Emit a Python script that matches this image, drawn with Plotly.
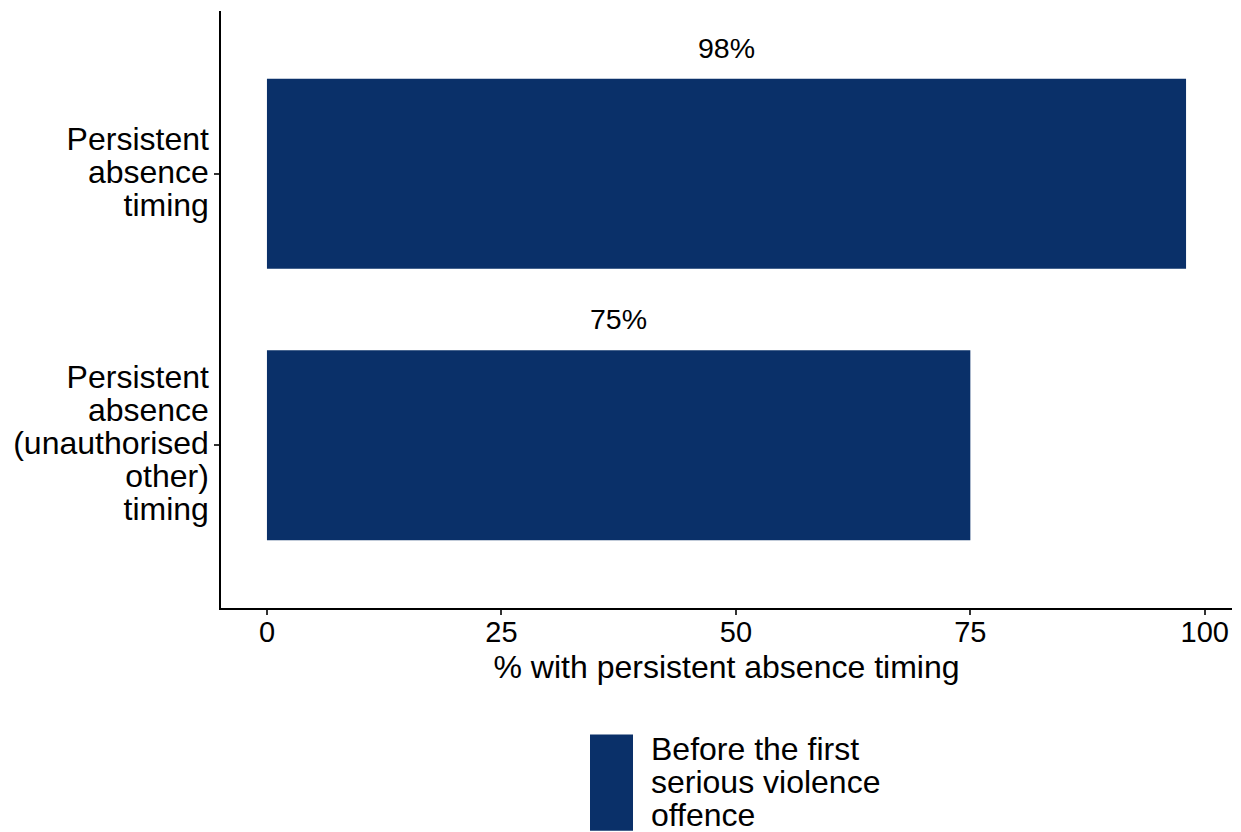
import plotly.graph_objects as go

categories = ["Persistent absence timing",
              "Persistent absence (unauthorised other) timing"]
category_lines = [["Persistent", "absence", "timing"],
                  ["Persistent", "absence", "(unauthorised", "other)", "timing"]]
values = [98, 75]
value_labels = ["98%", "75%"]
series_name = "Before the first serious violence offence"
series_lines = ["Before the first", "serious violence", "offence"]
x_ticks = [0, 25, 50, 75, 100]
x_title = "% with persistent absence timing"

BAR = "#0a3069"
FONT = "Liberation Sans, Arial, sans-serif"


def big_lines(lines, px):
    return "<br>".join(f"<span style='font-size:{px}px'>{ln}</span>" for ln in lines)


# plot area in page pixels (page has ~8px body margin)
PX0, PX1, PY0, PY1 = 221, 1232, 11.4, 607.6
PW, PH = PX1 - PX0, PY1 - PY0


def px(x):
    return (x - PX0) / PW


def py(y):
    return (PY1 - y) / PH


fig = go.Figure()
fig.add_trace(go.Bar(
    x=values, y=categories, orientation="h", width=0.7,
    marker=dict(color=BAR, line=dict(width=0)),
    name=series_name, showlegend=False,
))

for c, v, t in zip(categories, values, value_labels):
    fig.add_annotation(x=v / 2, y=c, text=t, showarrow=False,
                       xanchor="center", yanchor="middle", yshift=126,
                       font=dict(size=28.5, color="black", family=FONT))

# legend key
fig.add_shape(type="rect", xref="paper", yref="paper",
              x0=px(590), x1=px(633), y0=py(734), y1=py(830),
              fillcolor=BAR, line=dict(width=0))
fig.add_annotation(xref="paper", yref="paper",
                   x=px(649), y=py(781),
                   text=big_lines(series_lines, 32), showarrow=False, align="left",
                   xanchor="left", yanchor="middle",
                   font=dict(size=25.5, color="black", family=FONT))

fig.update_layout(
    width=1233, height=824,
    margin=dict(l=213, r=9, t=3, b=224),
    paper_bgcolor="white", plot_bgcolor="white",
    font=dict(family=FONT, size=26, color="black"),
)
fig.update_xaxes(
    range=[-4.9, 102.9], tickvals=x_ticks, ticktext=[str(t) for t in x_ticks],
    showgrid=False, zeroline=False,
    showline=True, linecolor="black", linewidth=2,
    ticks="outside", ticklen=5, tickwidth=2, tickcolor="#333333",
    tickfont=dict(size=29, color="black"), ticklabelstandoff=-8,
    title=dict(text=x_title, standoff=9, font=dict(size=32, color="black")),
)
fig.update_yaxes(
    type="category", categoryorder="array", categoryarray=categories,
    tickvals=categories, ticktext=[big_lines(l, 32) for l in category_lines],
    range=[1.6, -0.6],
    showgrid=False, zeroline=False,
    showline=True, linecolor="black", linewidth=2,
    ticks="outside", ticklen=5, tickwidth=2, tickcolor="#333333",
    tickfont=dict(size=25.5, color="black"),
)

fig.write_html("out.html")
